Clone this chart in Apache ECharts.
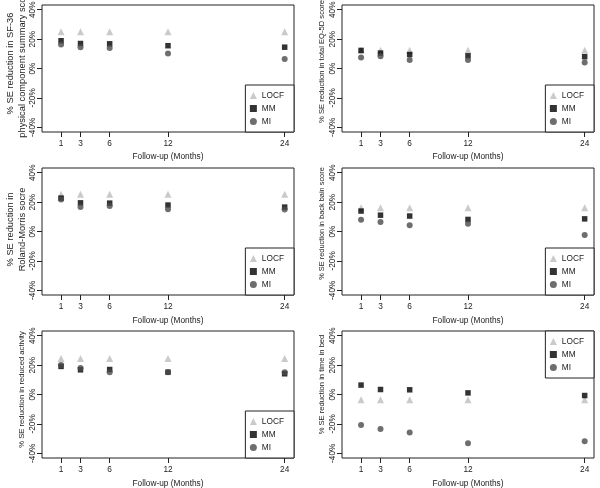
<!DOCTYPE html>
<html>
<head>
<meta charset="utf-8">
<script src="https://cdn.jsdelivr.net/npm/echarts@6/dist/echarts.min.js"></script>
<style>
  html, body { margin: 0; background: #fff; }
  #chart { width: 600px; height: 488px; }
</style>
</head>
<body>
<div id="chart"></div>
<script>
const months = [1, 3, 6, 12, 24];
const yTicks = [-40, -20, 0, 20, 40];
const seriesNames = ['LOCF', 'MM', 'MI'];

// % SE reduction per follow-up month
const sf36Locf = [25, 25, 25, 25, 25];
const sf36Mm = [18.9, 17, 16.8, 15.5, 14.5];
const sf36Mi = [16.4, 14.5, 13.9, 10.2, 6.4];

const eq5dLocf = [12.5, 12.5, 12.5, 12.5, 12.5];
const eq5dMm = [12.3, 10.5, 9.5, 8.6, 8.0];
const eq5dMi = [7.5, 8.4, 5.7, 5.7, 4.1];

const rolandLocf = [25.3, 25.3, 25.3, 25.3, 25.3];
const rolandMm = [22.7, 19.5, 19.3, 18, 16.6];
const rolandMi = [21.8, 16.6, 17.3, 15.2, 15];

const backLocf = [16.1, 16.1, 16.1, 16.1, 16.1];
const backMm = [13.9, 11.1, 10.5, 8.2, 8.6];
const backMi = [8.0, 6.4, 4.3, 5.2, -2.3];

const activityLocf = [24.5, 24.5, 24.5, 24.5, 24.5];
const activityMm = [19.1, 16.8, 17.0, 15.2, 14.1];
const activityMi = [20, 18, 15.2, 15.2, 15.2];

const bedLocf = [-3.6, -3.6, -3.6, -3.6, -3.6];
const bedMm = [6.4, 3.4, 3.2, 1.1, -0.7];
const bedMi = [-20.7, -23.4, -25.9, -33.2, -31.8];

const font = '"Liberation Sans", Arial, sans-serif';
const ink = '#222';

// y titles: gap from the box, font size, and a small upward nudge (px)
const panels = [
  { label: '% SE reduction in SF-36\nphysical component summary score', gap: 14, size: 9.3, up: 5, locf: sf36Locf, mm: sf36Mm, mi: sf36Mi, legendTop: false },
  { label: '% SE reduction in total EQ-5D score', gap: 9.5, size: 7.6, up: 7, locf: eq5dLocf, mm: eq5dMm, mi: eq5dMi, legendTop: false },
  { label: '% SE reduction in\nRoland-Morris socre', gap: 14, size: 9.3, up: 2, locf: rolandLocf, mm: rolandMm, mi: rolandMi, legendTop: false },
  { label: '% SE reduction in back bain score', gap: 11, size: 7.4, up: 8, locf: backLocf, mm: backMm, mi: backMi, legendTop: false },
  { label: '% SE reduction in reduced activity', gap: 14.3, size: 7.7, up: 5, locf: activityLocf, mm: activityMm, mi: activityMi, legendTop: false },
  { label: '% SE reduction in time in bed', gap: 14.3, size: 7.6, up: 10, locf: bedLocf, mm: bedMm, mi: bedMi, legendTop: true }
];

const gridLeft = (i) => 42 + 300 * (i % 2);
const gridTop = (i) => 5 + 163 * Math.floor(i / 2);
const toPoints = (values) => months.map((m, k) => [m, values[k]]);

const chart = echarts.init(document.getElementById('chart'));

const series = [];
panels.forEach((p, i) => {
  series.push(
    { name: 'LOCF', type: 'scatter', xAxisIndex: i, yAxisIndex: i, symbol: 'triangle', symbolSize: 7,
      itemStyle: { color: '#bdbdbd' }, data: toPoints(p.locf) },
    { name: 'MM', type: 'scatter', xAxisIndex: i, yAxisIndex: i, symbol: 'rect', symbolSize: 5.5,
      itemStyle: { color: '#000' }, data: toPoints(p.mm) },
    { name: 'MI', type: 'scatter', xAxisIndex: i, yAxisIndex: i, symbol: 'circle', symbolSize: 6,
      itemStyle: { color: '#4a4a4a' }, data: toPoints(p.mi) }
  );
});

chart.setOption({
  animation: false,
  textStyle: { fontFamily: font },
  grid: panels.map((p, i) => ({
    left: gridLeft(i), top: gridTop(i), width: 252, height: 127,
    outerBoundsMode: 'none', containLabel: false,
    show: true, borderColor: ink, borderWidth: 1, backgroundColor: 'transparent'
  })),
  xAxis: panels.map((p, i) => ({
    gridIndex: i, type: 'value', min: -0.96, max: 24.96,
    axisLine: { show: false, onZero: false }, splitLine: { show: false },
    axisTick: { show: true, length: 5, customValues: months, lineStyle: { color: ink } },
    axisLabel: { customValues: months, fontSize: 8.3, color: ink, margin: 8, fontFamily: font },
    name: 'Follow-up (Months)', nameLocation: 'middle', nameGap: i < 2 ? 19.5 : 21,
    nameTextStyle: { fontSize: 8.3, color: ink, lineHeight: 10, fontFamily: font }
  })),
  yAxis: panels.map((p, i) => ({
    gridIndex: i, type: 'value', min: -43.2, max: 43.2,
    axisLine: { show: false, onZero: false }, splitLine: { show: false },
    axisTick: { show: true, length: 5, customValues: yTicks, lineStyle: { color: ink } },
    axisLabel: { customValues: yTicks, formatter: '{value}%', rotate: 90, fontSize: 8.3, color: ink, margin: 5, fontFamily: font },
    name: p.label, nameLocation: 'middle', nameGap: p.gap,
    nameTextStyle: { fontSize: p.size, color: ink, lineHeight: 12, fontFamily: font, padding: [0, 0, 0, 2 * p.up] }
  })),
  legend: panels.map((p, i) => {
    const leg = {
      data: seriesNames, orient: 'vertical', selectedMode: false,
      right: i % 2 ? 6 : 306,
      padding: [5.5, 10, 5.5, 4.5], itemGap: 3, itemWidth: 7, itemHeight: 7,
      borderColor: ink, borderWidth: 1, borderRadius: 0, backgroundColor: '#fff',
      textStyle: { fontSize: 8.3, color: ink, lineHeight: 10, fontFamily: font }
    };
    if (p.legendTop) leg.top = gridTop(i);
    else leg.bottom = 488 - (gridTop(i) + 127);
    return leg;
  }),
  series: series
});
</script>
</body>
</html>
